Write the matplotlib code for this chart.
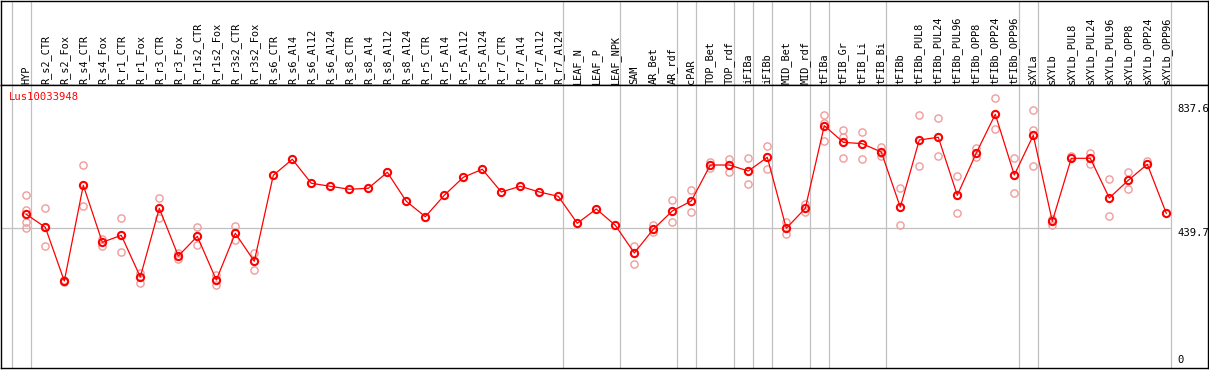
import matplotlib
matplotlib.use("Agg")
import matplotlib.pyplot as plt

gene = "Lus10033948"

samples = [
    "HYP", "R_s2_CTR", "R_s2_Fox", "R_s4_CTR", "R_s4_Fox", "R_r1_CTR", "R_r1_Fox",
    "R_r3_CTR", "R_r3_Fox", "R_r1s2_CTR", "R_r1s2_Fox", "R_r3s2_CTR", "R_r3s2_Fox",
    "R_s6_CTR", "R_s6_Al4", "R_s6_Al12", "R_s6_Al24", "R_s8_CTR", "R_s8_Al4",
    "R_s8_Al12", "R_s8_Al24", "R_r5_CTR", "R_r5_Al4", "R_r5_Al12", "R_r5_Al24",
    "R_r7_CTR", "R_r7_Al4", "R_r7_Al12", "R_r7_Al24", "LEAF_N", "LEAF_P", "LEAF_NPK",
    "SAM", "AR_Bet", "AR_rdf", "cPAR", "TOP_Bet", "TOP_rdf", "iFIBa", "iFIBb",
    "MID_Bet", "MID_rdf", "tFIBa", "tFIB_Gr", "tFIB_Li", "tFIB_Bi", "tFIBb",
    "tFIBb_PUL8", "tFIBb_PUL24", "tFIBb_PUL96", "tFIBb_OPP8", "tFIBb_OPP24",
    "tFIBb_OPP96", "sXYLa", "sXYLb", "sXYLb_PUL8", "sXYLb_PUL24", "sXYLb_PUL96",
    "sXYLb_OPP8", "sXYLb_OPP24", "sXYLb_OPP96",
]

# mean expression per sample
means = [
    484.6, 443.0, 271.1, 577.5, 395.0, 417.4, 283.9, 503.8, 351.1, 414.2, 274.3,
    423.8, 334.2, 609.5, 660.7, 583.9, 574.3, 564.7, 567.9, 619.1, 526.2, 477.0,
    545.5, 603.1, 628.7, 556.0, 574.3, 556.0, 542.2, 455.8, 501.6, 449.4, 360.8,
    436.6, 495.2, 527.2, 642.4, 642.4, 623.2, 667.1, 439.8, 503.8, 768.2, 715.1,
    710.6, 684.0, 507.4, 722.5, 731.1, 545.5, 680.9, 804.7, 610.4, 737.5, 462.2,
    663.9, 663.9, 536.8, 593.5, 644.7, 487.8,
]

# individual replicates (light markers)
replicates = [
    [545.4, 498.4, 459.0, 439.8], [503.8, 443.0, 383.2], [275.0, 267.0],
    [641.5, 510.2], [405.6, 383.2], [471.8, 363.0], [296.7, 265.7],
    [535.8, 471.8], [361.7, 341.5], [444.0, 385.4], [289.4, 259.3],
    [447.2, 401.4], [361.7, 305.4],
    [], [], [], [], [], [], [], [], [], [], [], [], [], [], [], [], [], [], [],
    [383.2, 325.5], [450.4, 428.9], [530.4, 459.0], [562.4, 491.0],
    [651.1, 632.8], [661.6, 619.1], [663.9, 580.7], [703.3, 630.6],
    [459.0, 421.6], [517.6, 493.0], [802.5, 775.9, 718.3],
    [753.5, 733.0, 663.9], [747.1, 662.6], [701.0, 679.9, 672.2],
    [567.2, 449.4], [801.5, 638.3], [791.9, 670.3], [606.3, 487.8],
    [695.9, 668.1], [855.9, 757.7], [663.9, 551.9], [817.5, 754.5, 638.3],
    [468.6, 451.3], [672.2], [681.8, 644.7], [596.7, 479.2], [620.0, 565.6],
    [656.2], [],
]

# last sample index of each group (gray separators)
group_ends = [-1, 0, 28, 31, 34, 35, 37, 38, 39, 41, 42, 45, 52, 53, 60]

ref_values = [837.6, 439.7, 0]
ref_labels = ["837.6", "439.7", "0"]

W, H = 1209, 370
fig = plt.figure(figsize=(W / 100, H / 100), dpi=100)

xmin, xmax = -1.332, 62.195
ymin, ymax = -7.4, 898.5
gray = "#c0c0c0"
mono = "DejaVu Sans Mono"

head = fig.add_axes([1 / W, 285 / H, 1207 / W, 84.5 / H])
ax = fig.add_axes([1 / W, 2 / H, 1207 / W, 283 / H])

for a in (head, ax):
    a.set_xlim(xmin, xmax)
    a.set_xticks([])
    a.set_yticks([])
    for s in a.spines.values():
        s.set_color("black")
        s.set_linewidth(1.0)
    for e in group_ends:
        a.axvline(e + 0.23, color=gray, lw=0.9, zorder=0)

head.set_ylim(84.5, 0)
for i, name in enumerate(samples):
    head.text(i, 83, name, rotation=90, ha="center", va="bottom",
              fontsize=7.4, family=mono)

ax.set_ylim(ymin, ymax)
ax.hlines(439.7, xmin, 60.23, color=gray, lw=0.9, zorder=0)

for i, reps in enumerate(replicates):
    ax.plot([i] * len(reps), reps, "o", mfc="none", mec="#f09c9c",
            ms=5.2, mew=1.0, zorder=1)

ax.plot(range(len(means)), means, "-o", color="red", lw=0.9,
        mfc="none", mec="red", ms=5.2, mew=1.5, zorder=2)

for v, lab in zip(ref_values, ref_labels):
    if v > 30:
        ax.text(0.9745, v, lab, transform=ax.get_yaxis_transform(),
                ha="left", va="top", fontsize=7.6, family=mono)
    else:
        ax.text(0.9745, v + 1.5, lab, transform=ax.get_yaxis_transform(),
                ha="left", va="bottom", fontsize=7.6, family=mono)

ax.text(0.0066, 0.975, gene, transform=ax.transAxes, ha="left", va="top",
        color="red", fontsize=7.6, family=mono)

fig.savefig("out.png", dpi=100)
plt.close(fig)
